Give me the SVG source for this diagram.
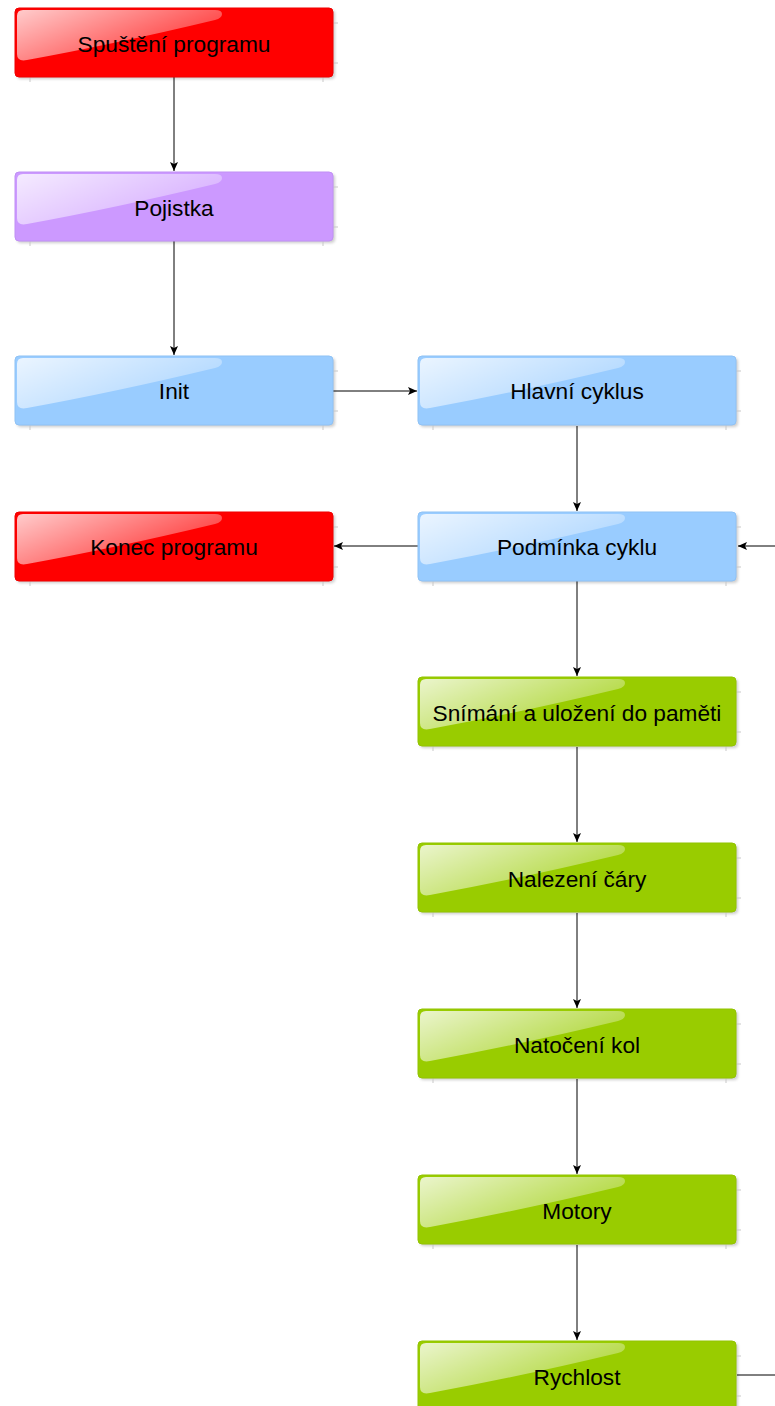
<svg xmlns="http://www.w3.org/2000/svg" width="775" height="1406" viewBox="0 0 775 1406">
<style>
.box{stroke-width:1}
.red{fill:#FF0000;stroke:#F00000}
.pur{fill:#CC99FF;stroke:#C090F5}
.blu{fill:#99CCFF;stroke:#8FC2F5}
.grn{fill:#99CC00;stroke:#92C400}
.shadow{fill:#000;opacity:0.2;filter:url(#blur)}
.gloss{fill:url(#gl)}
.lbl{font-family:"Liberation Sans",Arial,sans-serif;font-size:22.7px;fill:#000;text-anchor:middle}
.tick{stroke:#c8c8c8;stroke-width:1}
.conn{stroke:#000;stroke-width:1;fill:none}
</style>
<defs>
<filter id="blur" x="-10%" y="-20%" width="120%" height="140%"><feGaussianBlur stdDeviation="1.5"/></filter>
<linearGradient id="gl" x1="0" y1="0" x2="1" y2="0.6">
<stop offset="0" stop-color="#fff" stop-opacity="0.8"/>
<stop offset="1" stop-color="#fff" stop-opacity="0.2"/>
</linearGradient>
<marker id="arr" markerWidth="10" markerHeight="8" refX="9" refY="4" orient="auto" markerUnits="userSpaceOnUse">
<path d="M0,0 L9,4 L0,8 L2,4 Z" fill="#000"/>
</marker>
<g id="glossL">
<path d="M2,8 Q2,2 8,2 L200,2 Q207,2 207,6 Q207,10 200,12 Q100,36 12,52 Q2,54 2,46 Z" class="gloss"/>
</g>
</defs>

<g id="connectors">
<line class="conn" x1="174" y1="77" x2="174" y2="171" marker-end="url(#arr)"/>
<line class="conn" x1="174" y1="241" x2="174" y2="355" marker-end="url(#arr)"/>
<line class="conn" x1="333" y1="391" x2="417" y2="391" marker-end="url(#arr)"/>
<line class="conn" x1="577" y1="426" x2="577" y2="511" marker-end="url(#arr)"/>
<line class="conn" x1="418" y1="546" x2="334" y2="546" marker-end="url(#arr)"/>
<line class="conn" x1="775" y1="546" x2="738" y2="546" marker-end="url(#arr)"/>
<line class="conn" x1="577" y1="581" x2="577" y2="676" marker-end="url(#arr)"/>
<line class="conn" x1="577" y1="747" x2="577" y2="842" marker-end="url(#arr)"/>
<line class="conn" x1="577" y1="913" x2="577" y2="1008" marker-end="url(#arr)"/>
<line class="conn" x1="577" y1="1079" x2="577" y2="1174" marker-end="url(#arr)"/>
<line class="conn" x1="577" y1="1245" x2="577" y2="1340" marker-end="url(#arr)"/>
<line class="conn" x1="737" y1="1375" x2="775" y2="1375"/>
</g>

<g id="n-spusteni" transform="translate(15,8)">
<rect class="shadow" x="2" y="2" width="318" height="69" rx="4"/>
<line class="tick" x1="15" y1="69" x2="15" y2="74"/><line class="tick" x1="308" y1="69" x2="308" y2="74"/><line class="tick" x1="318" y1="15" x2="323" y2="15"/><line class="tick" x1="318" y1="55" x2="323" y2="55"/>
<rect class="box red" x="0" y="0" width="318" height="69" rx="4"/>
<use href="#glossL"/>
<text class="lbl" x="159" y="44">Spuštění programu</text>
</g>

<g id="n-pojistka" transform="translate(15,172)">
<rect class="shadow" x="2" y="2" width="318" height="69" rx="4"/>
<line class="tick" x1="15" y1="69" x2="15" y2="74"/><line class="tick" x1="308" y1="69" x2="308" y2="74"/><line class="tick" x1="318" y1="15" x2="323" y2="15"/><line class="tick" x1="318" y1="55" x2="323" y2="55"/>
<rect class="box pur" x="0" y="0" width="318" height="69" rx="4"/>
<use href="#glossL"/>
<text class="lbl" x="159" y="44">Pojistka</text>
</g>

<g id="n-init" transform="translate(15,356)">
<rect class="shadow" x="2" y="2" width="318" height="69" rx="4"/>
<line class="tick" x1="15" y1="69" x2="15" y2="74"/><line class="tick" x1="308" y1="69" x2="308" y2="74"/><line class="tick" x1="318" y1="15" x2="323" y2="15"/><line class="tick" x1="318" y1="55" x2="323" y2="55"/>
<rect class="box blu" x="0" y="0" width="318" height="69" rx="4"/>
<use href="#glossL"/>
<text class="lbl" x="159" y="43">Init</text>
</g>

<g id="n-hlavni" transform="translate(418,356)">
<rect class="shadow" x="2" y="2" width="318" height="69" rx="4"/>
<line class="tick" x1="15" y1="69" x2="15" y2="74"/><line class="tick" x1="308" y1="69" x2="308" y2="74"/><line class="tick" x1="318" y1="15" x2="323" y2="15"/><line class="tick" x1="318" y1="55" x2="323" y2="55"/>
<rect class="box blu" x="0" y="0" width="318" height="69" rx="4"/>
<use href="#glossL"/>
<text class="lbl" x="159" y="43">Hlavní cyklus</text>
</g>

<g id="n-konec" transform="translate(15,512)">
<rect class="shadow" x="2" y="2" width="318" height="69" rx="4"/>
<line class="tick" x1="15" y1="69" x2="15" y2="74"/><line class="tick" x1="308" y1="69" x2="308" y2="74"/><line class="tick" x1="318" y1="15" x2="323" y2="15"/><line class="tick" x1="318" y1="55" x2="323" y2="55"/>
<rect class="box red" x="0" y="0" width="318" height="69" rx="4"/>
<use href="#glossL"/>
<text class="lbl" x="159" y="43">Konec programu</text>
</g>

<g id="n-podminka" transform="translate(418,512)">
<rect class="shadow" x="2" y="2" width="318" height="69" rx="4"/>
<line class="tick" x1="15" y1="69" x2="15" y2="74"/><line class="tick" x1="308" y1="69" x2="308" y2="74"/><line class="tick" x1="318" y1="15" x2="323" y2="15"/><line class="tick" x1="318" y1="55" x2="323" y2="55"/>
<rect class="box blu" x="0" y="0" width="318" height="69" rx="4"/>
<use href="#glossL"/>
<text class="lbl" x="159" y="43">Podmínka cyklu</text>
</g>

<g id="n-snimani" transform="translate(418,677)">
<rect class="shadow" x="2" y="2" width="318" height="69" rx="4"/>
<line class="tick" x1="15" y1="69" x2="15" y2="74"/><line class="tick" x1="308" y1="69" x2="308" y2="74"/><line class="tick" x1="318" y1="15" x2="323" y2="15"/><line class="tick" x1="318" y1="55" x2="323" y2="55"/>
<rect class="box grn" x="0" y="0" width="318" height="69" rx="4"/>
<use href="#glossL"/>
<text class="lbl" x="159" y="44">Snímání a uložení do paměti</text>
</g>

<g id="n-nalezeni" transform="translate(418,843)">
<rect class="shadow" x="2" y="2" width="318" height="69" rx="4"/>
<line class="tick" x1="15" y1="69" x2="15" y2="74"/><line class="tick" x1="308" y1="69" x2="308" y2="74"/><line class="tick" x1="318" y1="15" x2="323" y2="15"/><line class="tick" x1="318" y1="55" x2="323" y2="55"/>
<rect class="box grn" x="0" y="0" width="318" height="69" rx="4"/>
<use href="#glossL"/>
<text class="lbl" x="159" y="44">Nalezení čáry</text>
</g>

<g id="n-natoceni" transform="translate(418,1009)">
<rect class="shadow" x="2" y="2" width="318" height="69" rx="4"/>
<line class="tick" x1="15" y1="69" x2="15" y2="74"/><line class="tick" x1="308" y1="69" x2="308" y2="74"/><line class="tick" x1="318" y1="15" x2="323" y2="15"/><line class="tick" x1="318" y1="55" x2="323" y2="55"/>
<rect class="box grn" x="0" y="0" width="318" height="69" rx="4"/>
<use href="#glossL"/>
<text class="lbl" x="159" y="44">Natočení kol</text>
</g>

<g id="n-motory" transform="translate(418,1175)">
<rect class="shadow" x="2" y="2" width="318" height="69" rx="4"/>
<line class="tick" x1="15" y1="69" x2="15" y2="74"/><line class="tick" x1="308" y1="69" x2="308" y2="74"/><line class="tick" x1="318" y1="15" x2="323" y2="15"/><line class="tick" x1="318" y1="55" x2="323" y2="55"/>
<rect class="box grn" x="0" y="0" width="318" height="69" rx="4"/>
<use href="#glossL"/>
<text class="lbl" x="159" y="44">Motory</text>
</g>

<g id="n-rychlost" transform="translate(418,1341)">
<rect class="shadow" x="2" y="2" width="318" height="69" rx="4"/>
<line class="tick" x1="318" y1="15" x2="323" y2="15"/><line class="tick" x1="318" y1="55" x2="323" y2="55"/>
<rect class="box grn" x="0" y="0" width="318" height="69" rx="4"/>
<use href="#glossL"/>
<text class="lbl" x="159" y="44">Rychlost</text>
</g>
</svg>
